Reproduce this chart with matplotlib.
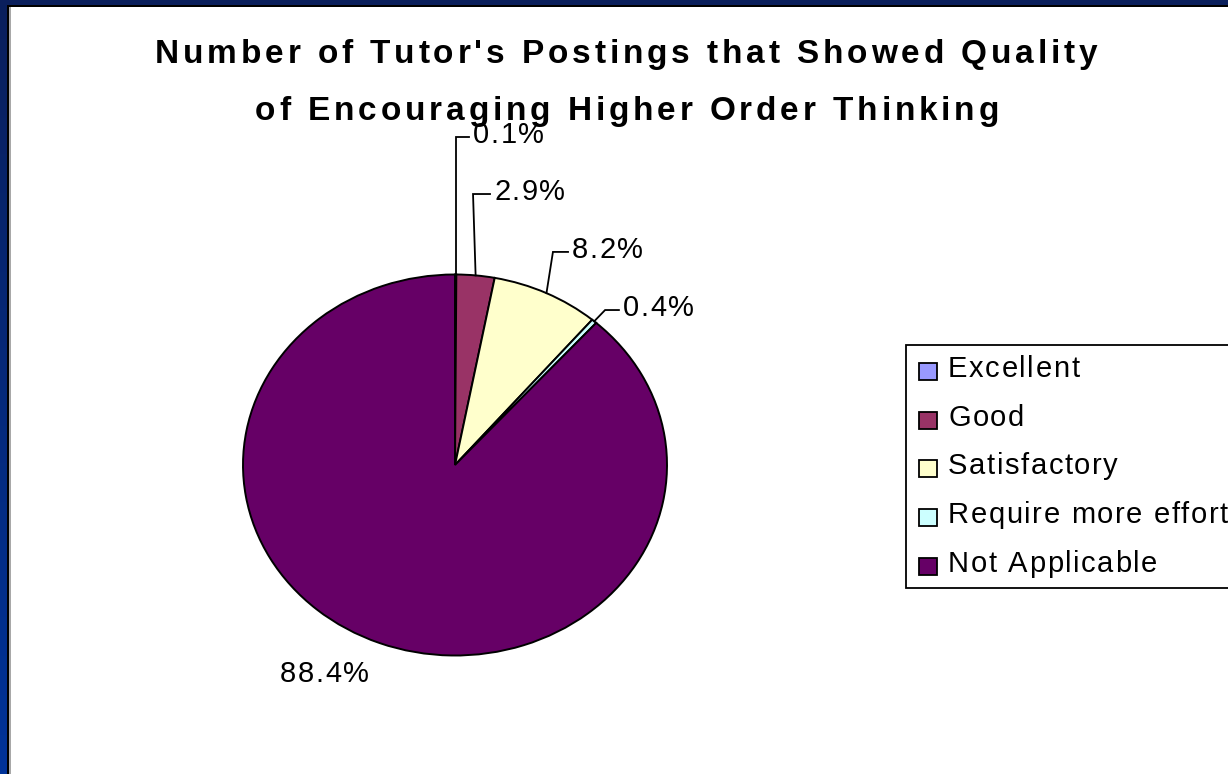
import matplotlib
matplotlib.use("Agg")
import matplotlib.pyplot as plt
import matplotlib.transforms as mtransforms
import numpy as np
from matplotlib.colors import LinearSegmentedColormap
from matplotlib.font_manager import FontProperties, findfont
from matplotlib.ft2font import FT2Font
from matplotlib.patches import Rectangle

FAMILY = ["Liberation Sans", "DejaVu Sans"]
plt.rcParams["font.family"] = FAMILY

# Share of tutor postings per quality rating (%)
categories = ["Excellent", "Good", "Satisfactory", "Require more effort", "Not Applicable"]
shares = [0.1, 2.9, 8.2, 0.4, 88.4]
colors = ["#9999FF", "#993366", "#FFFFCC", "#CCFFFF", "#660066"]
title_lines = [
    "Number of Tutor's Postings that Showed Quality",
    "of Encouraging Higher Order Thinking",
]

# Label placement in pie units: (left edge, baseline); knee x of the leader
label_xy = [(0.085, 1.690), (0.184, 1.391), (0.552, 1.087), (0.792, 0.782), (-0.825, -1.139)]
knee_x = [None, 0.085, 0.462, 0.708, None]
has_leader = [True, True, True, True, False]

W, H = 1228, 774


def tracked_text(ax, x, y, s, size, track, ha="left", weight="normal"):
    """Draw s one glyph at a time with extra letter spacing (track, in pt)."""
    prop = FontProperties(family=FAMILY, size=size, weight=weight)
    font = FT2Font(findfont(prop))
    font.set_size(size, 72)
    adv = []
    for ch in s:
        g = font.load_char(ord(ch))
        adv.append(g.linearHoriAdvance / 65536.0)
    total = sum(adv) + track * (len(s) - 1)
    off = {"left": 0.0, "center": -total / 2, "right": -total}[ha]
    for ch, a in zip(s, adv):
        if ch != " ":
            tr = mtransforms.offset_copy(ax.transData, fig=ax.figure, x=off, y=0,
                                         units="points")
            ax.text(x, y, ch, transform=tr, fontsize=size, fontweight=weight,
                    ha="left", va="baseline", clip_on=False)
        off += a + track


fig = plt.figure(figsize=(W / 100, H / 100), dpi=100)
fig.patch.set_facecolor("white")

# slide frame: navy bar on top, blue gradient down the left side
bg = fig.add_axes([0, 0, 1, 1])
bg.axis("off")
slide_cmap = LinearSegmentedColormap.from_list("slide", ["#0a1f5c", "#003399"])
bg.imshow(np.linspace(0, 1, 256).reshape(-1, 1), extent=[0, 7.3, H, 0],
          cmap=slide_cmap, aspect="auto", origin="upper")
bg.add_patch(Rectangle((0, 0), W, 5.3, color="#0a1f5c", lw=0))
bg.add_patch(Rectangle((7.3, 5.3), W, 2.0, color="black", lw=0))
bg.add_patch(Rectangle((7.3, 5.3), 2.0, H, color="black", lw=0))
bg.add_patch(Rectangle((9.3, 7.3), 1.2, H, color="#a8a8a8", lw=0))
bg.set_xlim(0, W)
bg.set_ylim(H, 0)

# title, widely tracked bold text
tracked_text(bg, 626, 63, title_lines[0], 24, 2.8, ha="center", weight="bold")
tracked_text(bg, 627, 120, title_lines[1], 24, 2.8, ha="center", weight="bold")

# legend box (runs off the right edge)
bg.add_patch(Rectangle((906, 345), 400, 243, facecolor="white",
                       edgecolor="black", lw=1.3))
for i, (name, col) in enumerate(zip(categories, colors)):
    base = 377 + 48.7 * i
    bg.add_patch(Rectangle((918.5, base - 14), 18, 17, facecolor=col,
                           edgecolor="black", lw=1.3))
    tracked_text(bg, 948, base, name, 21, 1.15)

# pie, drawn slightly flattened
cx, cy, rx, ry = 455, 465, 212, 190.5
ax = fig.add_axes([(cx - rx) / W, (H - cy - ry) / H, 2 * rx / W, 2 * ry / H])
wedges, _ = ax.pie(
    shares, colors=colors, startangle=90, counterclock=False,
    wedgeprops=dict(edgecolor="black", linewidth=1.4),
)
ax.set_aspect("auto")
ax.set_xlim(-1, 1)
ax.set_ylim(-1, 1)
ax.axis("off")

total = float(sum(shares))
cum = np.cumsum(shares)
for i, v in enumerate(shares):
    theta = np.deg2rad(90 - 360 * (cum[i] - v / 2) / total)
    px, py = np.cos(theta), np.sin(theta)
    tx, ty = label_xy[i]
    if has_leader[i]:
        kx = px if knee_x[i] is None else knee_x[i]
        ly = ty + 6 / ry
        ax.plot([px, kx, tx - 4 / rx], [py, ly, ly], color="black", lw=1.3,
                clip_on=False, solid_joinstyle="miter")
    tracked_text(ax, tx, ty, f"{v:.1f}%", 21, 1.15)

fig.savefig("out.png", dpi=100)
